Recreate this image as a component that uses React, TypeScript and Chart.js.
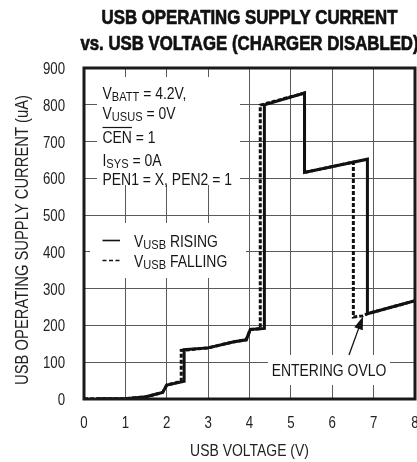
import { useEffect, useRef } from 'react';
import { Chart, registerables } from 'chart.js';

Chart.register(...registerables);

const FONT = "'Liberation Sans', Arimo, Arial, sans-serif";
const SX = 0.82; // horizontal squeeze to mimic a condensed face

const xTicks = [0, 1, 2, 3, 4, 5, 6, 7, 8];
const yTicks = [0, 100, 200, 300, 400, 500, 600, 700, 800, 900];

const risingV = [0.3, 1, 1.5, 1.9, 2.0, 2.42, 2.42, 3.0, 3.6, 3.92, 4.02, 4.36, 4.36, 5.33, 5.33, 6.85, 6.85, 8];
const risingI = [1, 1, 6, 18, 38, 48, 134, 139, 155, 161, 189, 192, 800, 832, 616, 652, 232, 267];

const fallingV = [8, 6.85, 6.73, 6.51, 6.51, 5.33, 5.33, 4.26, 4.26, 4.02, 3.92, 3.6, 3.0, 2.35, 2.35, 2.0, 1.9, 1.5, 1, 0];
const fallingI = [267, 232, 226, 223, 644, 616, 832, 799, 191, 189, 161, 155, 139, 132, 48, 38, 18, 6, 1, 1];

const titleLines = ['USB OPERATING SUPPLY CURRENT', 'vs. USB VOLTAGE (CHARGER DISABLED)'];
const xTitle = 'USB VOLTAGE (V)';
const yTitle = 'USB OPERATING SUPPLY CURRENT (uA)';

type Part = { t: string; sub?: boolean };
const conditions: Part[][] = [
  [{ t: 'V' }, { t: 'BATT', sub: true }, { t: ' = 4.2V,' }],
  [{ t: 'V' }, { t: 'USUS', sub: true }, { t: ' = 0V' }],
  [{ t: 'CEN' }, { t: ' = 1' }],
  [{ t: 'I' }, { t: 'SYS', sub: true }, { t: ' = 0A' }],
  [{ t: 'PEN1 = X, PEN2 = 1' }],
];
const conditionBaselines = [99, 118.5, 143, 166, 185];
const legendRising: Part[] = [{ t: 'V' }, { t: 'USB', sub: true }, { t: ' RISING' }];
const legendFalling: Part[] = [{ t: 'V' }, { t: 'USB', sub: true }, { t: ' FALLING' }];
const ovloLabel = 'ENTERING OVLO';

const MAIN = `17px ${FONT}`;
const SUB = `13.5px ${FONT}`;

function txt(ctx: CanvasRenderingContext2D, s: string, x: number, y: number, font: string, align: CanvasTextAlign, sx = SX) {
  ctx.save();
  ctx.font = font;
  ctx.textAlign = align;
  ctx.translate(x, y);
  ctx.scale(sx, 1);
  ctx.fillText(s, 0, 0);
  ctx.restore();
}

function drawRich(ctx: CanvasRenderingContext2D, x: number, y: number, parts: Part[]) {
  let cx = x;
  for (const p of parts) {
    const f = p.sub ? SUB : MAIN;
    txt(ctx, p.t, cx, y + (p.sub ? 2 : 0), f, 'left');
    ctx.font = f;
    cx += ctx.measureText(p.t).width * SX;
  }
  return cx;
}

const deco = {
  id: 'deco',
  beforeDatasetsDraw(chart: any) {
    const ctx: CanvasRenderingContext2D = chart.ctx;
    ctx.save();
    ctx.fillStyle = '#ffffff';
    ctx.fillRect(97, 77, 143, 108);
    ctx.fillRect(90, 223, 156, 55);
    ctx.fillRect(268, 355, 122, 30);

    ctx.fillStyle = '#161616';
    ctx.textBaseline = 'alphabetic';
    conditions.forEach((parts, i) => {
      drawRich(ctx, 102.5, conditionBaselines[i], parts);
      if (i === 2) {
        ctx.font = MAIN;
        const w = ctx.measureText('CEN').width * SX;
        ctx.strokeStyle = '#161616';
        ctx.lineWidth = 1.2;
        ctx.beginPath();
        ctx.moveTo(102.5, 127.5);
        ctx.lineTo(102.5 + w, 127.5);
        ctx.stroke();
      }
    });
    drawRich(ctx, 134, 247, legendRising);
    drawRich(ctx, 134, 267, legendFalling);
    ctx.strokeStyle = '#111';
    ctx.lineWidth = 1.6;
    ctx.beginPath();
    ctx.moveTo(102.5, 240.5);
    ctx.lineTo(120, 240.5);
    ctx.stroke();
    ctx.setLineDash([4, 2.5]);
    ctx.beginPath();
    ctx.moveTo(102.5, 260.5);
    ctx.lineTo(121, 260.5);
    ctx.stroke();
    ctx.setLineDash([]);

    txt(ctx, ovloLabel, 329, 376, MAIN, 'center');
    ctx.restore();
  },
  afterDatasetsDraw(chart: any) {
    const ctx: CanvasRenderingContext2D = chart.ctx;
    const a = chart.chartArea;
    ctx.save();
    // arrow
    const x1 = 349, y1 = 355, x2 = 363, y2 = 316.5;
    const ang = Math.atan2(y2 - y1, x2 - x1);
    ctx.strokeStyle = '#111';
    ctx.fillStyle = '#111';
    ctx.lineWidth = 1.3;
    ctx.beginPath();
    ctx.moveTo(x1, y1);
    ctx.lineTo(x2 - 10 * Math.cos(ang), y2 - 10 * Math.sin(ang));
    ctx.stroke();
    ctx.beginPath();
    ctx.moveTo(x2, y2);
    ctx.lineTo(x2 - 13 * Math.cos(ang) + 4.5 * Math.sin(ang), y2 - 13 * Math.sin(ang) - 4.5 * Math.cos(ang));
    ctx.lineTo(x2 - 13 * Math.cos(ang) - 4.5 * Math.sin(ang), y2 - 13 * Math.sin(ang) + 4.5 * Math.cos(ang));
    ctx.closePath();
    ctx.fill();
    // frame
    ctx.strokeStyle = '#1a1a1a';
    ctx.lineWidth = 3;
    ctx.strokeRect(a.left, a.top, a.right - a.left, a.bottom - a.top);
    ctx.restore();
  },
  afterDraw(chart: any) {
    const ctx: CanvasRenderingContext2D = chart.ctx;
    const a = chart.chartArea;
    const cx = (a.left + a.right) / 2;
    const xs = chart.scales.x;
    const ys = chart.scales.y;
    ctx.save();
    ctx.textBaseline = 'alphabetic';
    // title (heavy condensed)
    ctx.fillStyle = '#111';
    ctx.strokeStyle = '#111';
    ctx.lineWidth = 0.7;
    titleLines.forEach((line, i) => {
      ctx.save();
      ctx.font = `bold 20px ${FONT}`;
      ctx.textAlign = 'center';
      ctx.translate(cx, i === 0 ? 24 : 50);
      ctx.scale(0.84, 1);
      ctx.fillText(line, 0, 0);
      ctx.strokeText(line, 0, 0);
      ctx.restore();
    });
    // tick labels
    ctx.fillStyle = '#222';
    const TICK = `17px ${FONT}`;
    xTicks.forEach((v) => txt(ctx, String(v), xs.getPixelForValue(v), 428, TICK, 'center', 0.78));
    yTicks.forEach((v) => txt(ctx, String(v), 65, ys.getPixelForValue(v) + 6, TICK, 'right', 0.78));
    // axis titles
    txt(ctx, xTitle, cx, 456, `17px ${FONT}`, 'center');
    ctx.save();
    ctx.translate(23, 240);
    ctx.rotate(-Math.PI / 2);
    ctx.textBaseline = 'middle';
    txt(ctx, yTitle, 0, 0, `18px ${FONT}`, 'center');
    ctx.restore();
    ctx.restore();
  },
};

export default function App() {
  const ref = useRef<HTMLCanvasElement>(null);
  useEffect(() => {
    if (!ref.current) return;
    const chart = new Chart(ref.current, {
      type: 'line',
      data: {
        datasets: [
          {
            label: 'VUSB RISING',
            data: risingV.map((v, i) => ({ x: v, y: risingI[i] })),
            borderColor: '#111',
            borderWidth: 3,
            pointRadius: 0,
            fill: false,
            tension: 0,
            order: 1,
          },
          {
            label: 'VUSB FALLING',
            data: fallingV.map((v, i) => ({ x: v, y: fallingI[i] })),
            borderColor: '#111',
            borderWidth: 3,
            borderDash: [4, 2],
            pointRadius: 0,
            fill: false,
            tension: 0,
            order: 2,
          },
        ],
      },
      options: {
        responsive: false,
        animation: false,
        events: [],
        layout: { padding: { top: 68, left: 0, right: 15, bottom: 0 } },
        plugins: { legend: { display: false }, tooltip: { enabled: false }, title: { display: false } },
        scales: {
          x: {
            type: 'linear',
            min: 0,
            max: 8,
            afterBuildTicks: (s: any) => {
              s.ticks = xTicks.map((v) => ({ value: v }));
            },
            afterFit: (s: any) => {
              s.height = 63;
            },
            grid: { color: '#5a5a5a', lineWidth: 1, drawTicks: false },
            border: { display: false },
            ticks: { display: false },
          },
          y: {
            type: 'linear',
            min: 0,
            max: 900,
            afterBuildTicks: (s: any) => {
              s.ticks = yTicks.map((v) => ({ value: v }));
            },
            afterFit: (s: any) => {
              s.width = 84;
            },
            grid: { color: '#5a5a5a', lineWidth: 1, drawTicks: false },
            border: { display: false },
            ticks: { display: false },
          },
        },
      },
      plugins: [deco],
    });
    return () => chart.destroy();
  }, []);
  return (
    <div style={{ position: 'absolute', left: 0, top: 0, width: 417, height: 462, overflow: 'hidden', background: '#fff' }}>
      <canvas ref={ref} width={430} height={462} style={{ width: 430, height: 462, display: 'block' }} />
    </div>
  );
}
